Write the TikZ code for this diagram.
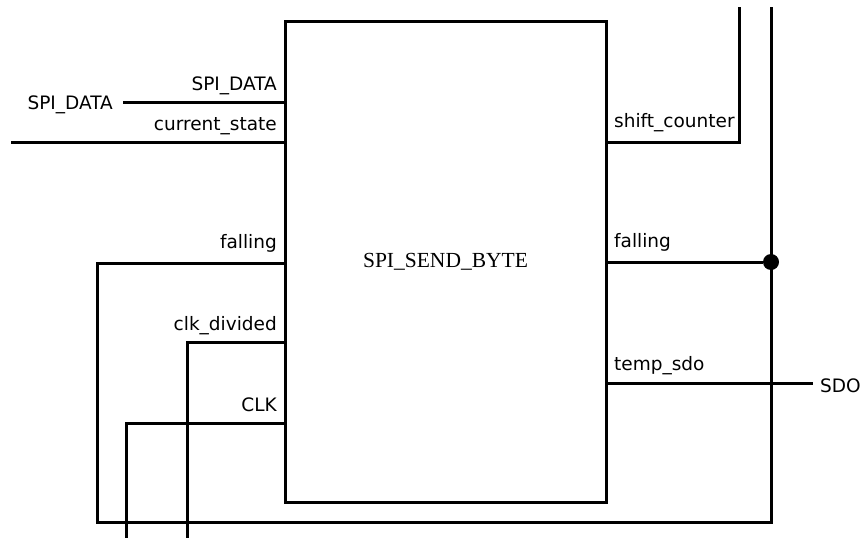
\documentclass[tikz,border=0pt]{standalone}
\usepackage{fontspec}
\setmainfont{Liberation Serif}
\newfontfamily\pinfont{DejaVu Sans}
\usepackage{tikz}
\usetikzlibrary{positioning,calc}

\begin{document}
\begin{tikzpicture}[x=1pt, y=-1pt, wire/.style={line width=3pt}, blockbox/.style={draw, line width=3pt, minimum width=321pt, minimum height=481pt, font=\fontsize{21.5}{25}\selectfont}, pinl/.style={anchor=base east, inner sep=0pt, font=\pinfont\fontsize{18.5}{22}\selectfont}, pinr/.style={anchor=base west, inner sep=0pt, font=\pinfont\fontsize{18.5}{22}\selectfont}, dot/.style={circle, fill, inner sep=0pt, minimum size=16pt}]
\useasboundingbox (0,0) rectangle (861,538);
\node[blockbox] (blk) at (445.5,261.5) {SPI\_SEND\_BYTE};
% pins on the left side
\coordinate (pData) at (285,102);
\coordinate (pState) at (285,142);
\coordinate (pFallL) at (285,263);
\coordinate (pClkDiv) at (285,342);
\coordinate (pClk) at (285,423);
% pins on the right side
\coordinate (pShift) at (606,142);
\coordinate (pFallR) at (606,262);
\coordinate (pSdo) at (606,383);
\node[pinl] (lData) at (277,90) {SPI\_DATA};
\node[pinl] (lState) at (277,130) {current\_state};
\node[pinl] (lFallL) at (277,248) {falling};
\node[pinl] (lClkDiv) at (277,330) {clk\_divided};
\node[pinl] (lClk) at (277,411) {CLK};
\node[pinr] (lShift) at (614,127) {shift\_counter};
\node[pinr] (lFallR) at (614,247) {falling};
\node[pinr] (lSdo) at (614,370) {temp\_sdo};
\node[pinl] (inData) at (113,109) {SPI\_DATA};
\node[pinr] (outSdo) at (820,392) {SDO};
\node[dot] (jn) at (771,262) {};
\coordinate (dataEnd) at (123,102);
\coordinate (stateEnd) at (11,142);
\coordinate (shiftTop) at (739,7);
\coordinate (busTop) at (771,7);
\coordinate (busBot) at (771,522);
\coordinate (loopL) at (97,522);
\coordinate (clkDivEnd) at (187,538);
\coordinate (clkEnd) at (126,538);
\coordinate (sdoEnd) at (813,383);
\draw[wire] (dataEnd) -- (pData);
\draw[wire] (stateEnd) -- (pState);
\draw[wire] (pShift) -| (shiftTop);
\draw[wire] (busTop) -- (busBot) -- (loopL) |- (pFallL);
\draw[wire] (pFallR) -- (jn);
\draw[wire] (pClkDiv) -| (clkDivEnd);
\draw[wire] (pClk) -| (clkEnd);
\draw[wire] (pSdo) -- (sdoEnd);
\end{tikzpicture}
\end{document}
